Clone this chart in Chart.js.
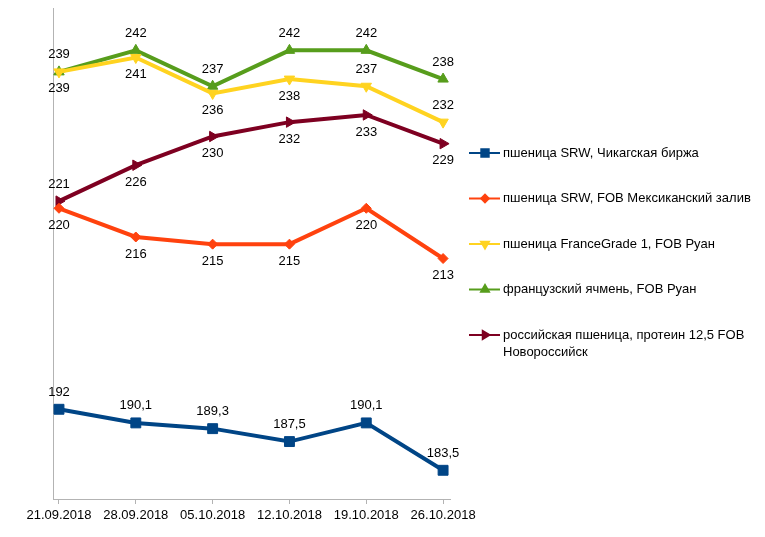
<!DOCTYPE html>
<html>
<head>
<meta charset="utf-8">
<script src="https://cdn.jsdelivr.net/npm/chart.js@4"></script>
<style>
  html, body { margin: 0; padding: 0; background: #fff; }
  #wrap { width: 765px; height: 537px; }
</style>
</head>
<body>
<div id="wrap"><canvas id="c" width="765" height="537"></canvas></div>
<script>
// ── Data ───────────────────────────────────────────────────
const dates = ['21.09.2018', '28.09.2018', '05.10.2018', '12.10.2018', '19.10.2018', '26.10.2018'];

const srwChicago  = [192, 190.1, 189.3, 187.5, 190.1, 183.5];
const srwGulf     = [220, 216, 215, 215, 220, 213];
const franceGrade = [239, 241, 236, 238, 237, 232];
const frBarley    = [239, 242, 237, 242, 242, 238];
const ruWheat     = [221, 226, 230, 232, 233, 229];

const seriesNames = [
  'пшеница SRW, Чикагская биржа',
  'пшеница SRW, FOB Мексиканский залив',
  'пшеница FranceGrade 1, FOB Руан',
  'французский ячмень, FOB Руан',
  ['российская пшеница, протеин 12,5 FOB', 'Новороссийск']
];

const FONT = '13px "Liberation Sans", Arial, sans-serif';

const toXY = arr => arr.map((v, i) => ({ x: i, y: v }));

function series(data, name, color, style, radius, rotation, labelPos) {
  return {
    label: Array.isArray(name) ? name.join(' ') : name,
    legendLines: Array.isArray(name) ? name : [name],
    data: toXY(data),
    borderColor: color,
    backgroundColor: color,
    borderWidth: 4,
    pointStyle: style,
    pointRadius: radius,
    pointRotation: rotation,
    pointBorderWidth: 1,
    labelPos: labelPos
  };
}

// ── Value labels above / below points ──────────────────────
const valueLabels = {
  id: 'valueLabels',
  afterDatasetsDraw(chart) {
    const ctx = chart.ctx;
    ctx.save();
    ctx.font = FONT;
    ctx.fillStyle = '#000';
    ctx.textAlign = 'center';
    ctx.textBaseline = 'middle';
    chart.data.datasets.forEach((ds, di) => {
      chart.getDatasetMeta(di).data.forEach((pt, i) => {
        const pos = ds.labelPos[i];
        const txt = String(ds.data[i].y).replace('.', ',');
        ctx.fillText(txt, pt.x, pt.y + (pos === 'above' ? -17 : 17));
      });
    });
    ctx.restore();
  }
};

// ── Legend on the right ────────────────────────────────────
const sideLegend = {
  id: 'sideLegend',
  afterDraw(chart) {
    const ctx = chart.ctx;
    ctx.save();
    ctx.font = FONT;
    ctx.textBaseline = 'middle';
    ctx.textAlign = 'left';
    chart.data.datasets.forEach((ds, i) => {
      const y = 153 + i * 45.5;
      ctx.strokeStyle = ds.borderColor;
      ctx.lineWidth = 2;
      ctx.beginPath();
      ctx.moveTo(469, y);
      ctx.lineTo(500, y);
      ctx.stroke();
      ctx.fillStyle = ds.backgroundColor;
      Chart.helpers.drawPoint(ctx, {
        pointStyle: ds.pointStyle,
        radius: ds.pointRadius * 0.75,
        rotation: ds.pointRotation,
        borderWidth: 1
      }, 485, y);
      ctx.fillStyle = '#000';
      ds.legendLines.forEach((line, k) => ctx.fillText(line, 503, y + k * 17));
    });
    ctx.restore();
  }
};

new Chart(document.getElementById('c'), {
  type: 'line',
  data: {
    datasets: [
      series(srwChicago,  seriesNames[0], '#004586', 'rect',     7, 0,   ['above', 'above', 'above', 'above', 'above', 'above']),
      series(srwGulf,     seriesNames[1], '#ff420e', 'rectRot',  5, 0,   ['below', 'below', 'below', 'below', 'below', 'below']),
      series(franceGrade, seriesNames[2], '#ffd320', 'triangle', 6, 180, ['below', 'below', 'below', 'below', 'above', 'above']),
      series(frBarley,    seriesNames[3], '#579d1c', 'triangle', 6, 0,   ['above', 'above', 'above', 'above', 'above', 'above']),
      series(ruWheat,     seriesNames[4], '#7e0021', 'triangle', 6, 90,  ['above', 'below', 'below', 'below', 'below', 'below'])
    ]
  },
  options: {
    responsive: false,
    animation: false,
    layout: { padding: { left: 53, top: 7, right: 315, bottom: 0 } },
    plugins: {
      legend: { display: false },
      tooltip: { enabled: false }
    },
    elements: { line: { tension: 0 } },
    scales: {
      x: {
        type: 'linear',
        min: -0.078,
        max: 5.09,
        grid: { display: true, drawOnChartArea: false, drawTicks: true, tickLength: 5, color: '#b3b3b3' },
        border: { display: true, color: '#b3b3b3' },
        ticks: {
          stepSize: 1,
          includeBounds: false,
          autoSkip: false,
          maxRotation: 0,
          padding: 4,
          color: '#000',
          font: { family: '"Liberation Sans", Arial, sans-serif', size: 13 },
          callback: v => Number.isInteger(v) ? dates[v] : ''
        },
        afterFit: s => { s.height = 38; }
      },
      y: {
        min: 179.5,
        max: 247.9,
        grid: { display: false },
        border: { display: true, color: '#b3b3b3' },
        ticks: { display: false },
        afterFit: s => { s.width = 0; }
      }
    }
  },
  plugins: [valueLabels, sideLegend]
});
</script>
</body>
</html>
